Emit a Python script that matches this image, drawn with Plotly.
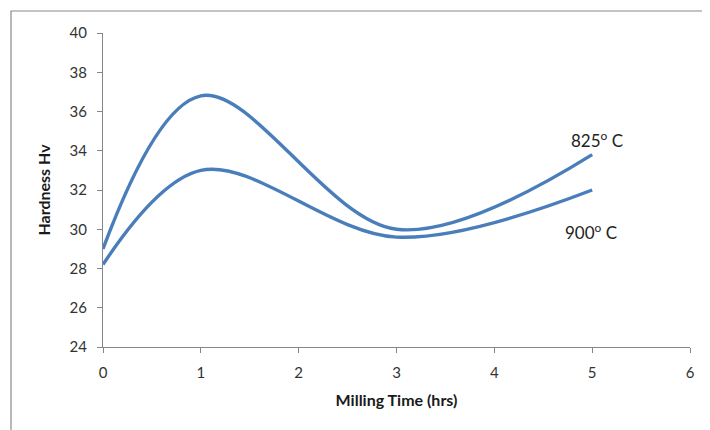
import plotly.graph_objects as go

milling_time = [0, 1, 3, 5]
hardness_825 = [29.0, 36.8, 30.0, 33.8]
hardness_900 = [28.2, 33.0, 29.6, 32.0]
series_labels = ["825<sup>o</sup> C", "900<sup>o</sup> C"]
label_pos = [(5.05, 34.55), (4.99, 29.9)]

# page body has an 8px margin; size the figure to fill the rest of the window
OFF = 8
W, H = 710 - OFF, 430 - OFF
L, R, T, B = 103 - OFF, 20, 33 - OFF, 83
pw, ph = W - L - R, H - T - B

fig = go.Figure()
line_color = "#4A7EBB"
for ys in (hardness_825, hardness_900):
    fig.add_trace(go.Scatter(x=milling_time, y=ys, mode="lines",
                             line=dict(color=line_color, width=3.4, shape="spline", smoothing=1.0),
                             showlegend=False, hoverinfo="skip"))

font_family = "Lato, 'Open Sans', Arial, sans-serif"
for txt, (xx, yy) in zip(series_labels, label_pos):
    fig.add_annotation(x=xx, y=yy, text=txt, showarrow=False,
                       font=dict(family=font_family, size=17, color="#222222"))

def px_to_paper_x(p):
    return (p - OFF - L) / pw
def px_to_paper_y(p):
    return (H - B - (p - OFF)) / ph

fig.add_shape(type="rect", xref="paper", yref="paper",
              x0=px_to_paper_x(11), x1=px_to_paper_x(715),
              y0=px_to_paper_y(440), y1=px_to_paper_y(11),
              line=dict(color="#8a8a8a", width=1.2), fillcolor="rgba(0,0,0,0)", layer="below")

axis_common = dict(showgrid=False, zeroline=False, showline=True, linecolor="#868686",
                   linewidth=1, ticks="outside", ticklen=5, tickcolor="#868686",
                   ticklabelstandoff=7,
                   tickfont=dict(family=font_family, size=15, color="#333333"))

title_font = dict(family=font_family, size=16, color="#1a1a1a", weight="bold")

fig.update_layout(
    width=W, height=H,
    margin=dict(l=L, r=R, t=T, b=B),
    plot_bgcolor="white", paper_bgcolor="white",
    xaxis=dict(range=[0, 6], dtick=1, tick0=0,
               title=dict(text="Milling Time (hrs)", standoff=14, font=title_font),
               **axis_common),
    yaxis=dict(range=[24, 40], dtick=2, tick0=24,
               title=dict(text="Hardness Hv", standoff=14, font=title_font),
               **axis_common),
)

fig.write_html("out.html")
